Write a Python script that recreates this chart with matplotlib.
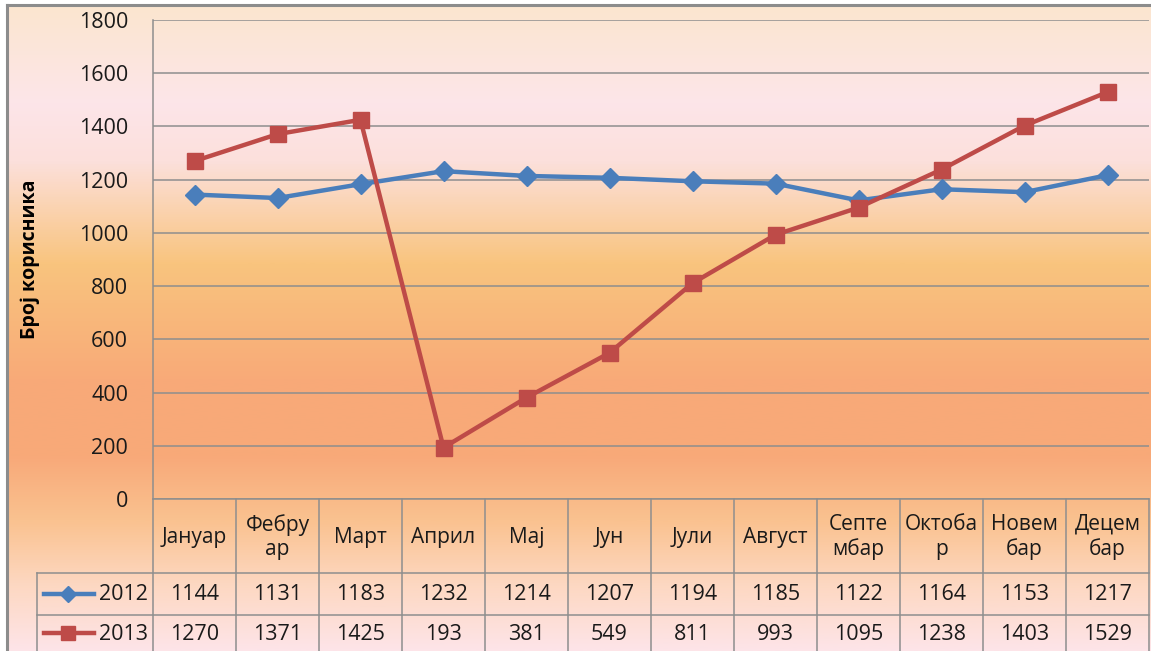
import matplotlib
matplotlib.use("Agg")
import matplotlib.pyplot as plt
import numpy as np
from matplotlib.colors import LinearSegmentedColormap
from matplotlib.lines import Line2D
import matplotlib.transforms as mtransforms

plt.rcParams['font.family'] = ['Open Sans', 'Noto Sans', 'DejaVu Sans']

months = ["Јануар", "Фебру\nар", "Март", "Април", "Мај", "Јун", "Јули",
          "Август", "Септе\nмбар", "Октоба\nр", "Новем\nбар", "Децем\nбар"]
series_names = ["2012", "2013"]
values_2012 = [1144, 1131, 1183, 1232, 1214, 1207, 1194, 1185, 1122, 1164, 1153, 1217]
values_2013 = [1270, 1371, 1425, 193, 381, 549, 811, 993, 1095, 1238, 1403, 1529]
y_ticks = [0, 200, 400, 600, 800, 1000, 1200, 1400, 1600, 1800]
y_label = "Број корисника"

W, H = 1151, 651
DPI = 100
fig = plt.figure(figsize=(W / DPI, H / DPI), dpi=DPI)
fig.patch.set_facecolor("white")

def fx(px):
    return px / W

def fy(py):
    return 1 - py / H

# Background gradient (whole chart area)
bg_left, bg_top = 7, 5
bgax = fig.add_axes([fx(bg_left), 0, 1 - fx(bg_left), fy(bg_top)])
bgax.set_axis_off()
stops = [
    (0.00, "#FBE6CF"),
    (0.15, "#FDE5E9"),
    (0.24, "#FCE0DC"),
    (0.40, "#F9C47E"),
    (0.58, "#F8AA78"),
    (0.70, "#F8A979"),
    (0.80, "#FAC290"),
    (0.90, "#FDD8C2"),
    (1.00, "#FDE4E8"),
]
cmap = LinearSegmentedColormap.from_list("bg", stops)
grad = np.linspace(0, 1, 512).reshape(-1, 1)
bgax.imshow(grad, aspect="auto", cmap=cmap, extent=[0, 1, 1, 0])
bgax.set_xlim(0, 1)
bgax.set_ylim(1, 0)

# Outer border
border_col = "#8C8C8C"
fig.add_artist(Line2D([fx(bg_left), 1], [fy(bg_top), fy(bg_top)], color=border_col, lw=2.2))
fig.add_artist(Line2D([fx(bg_left), fx(bg_left)], [fy(bg_top), 0], color=border_col, lw=2.2))

# Plot area
pl, pr, pt, pb = 153, 1149, 20, 499
ax = fig.add_axes([fx(pl), fy(pb), fx(pr) - fx(pl), fy(pt) - fy(pb)])
ax.patch.set_alpha(0)
x = np.arange(len(months))
ax.set_xlim(-0.5, len(months) - 0.5)
ax.set_ylim(0, 1800)
ax.set_yticks(y_ticks)
ax.set_yticklabels([str(v) for v in y_ticks], fontsize=15.5, color="#1a1a1a")
ax.tick_params(axis="y", length=0, pad=18)
ax.tick_params(axis="x", length=0, labelbottom=False)
grid_col = "#8E8E8E"
ax.grid(axis="y", color=grid_col, lw=1.1)
ax.set_axisbelow(True)
for s in ["top", "right"]:
    ax.spines[s].set_visible(False)
ax.spines["left"].set_color(grid_col)
ax.spines["bottom"].set_color(grid_col)
ax.spines["left"].set_linewidth(1.1)
ax.spines["bottom"].set_linewidth(1.1)

blue = "#4A7EBB"
red = "#BE4B48"
ax.plot(x, values_2012, color=blue, lw=3.2, marker="D", markersize=10, zorder=3)
ax.plot(x, values_2013, color=red, lw=3.2, marker="s", markersize=12, zorder=4)

ax.set_ylabel(y_label, fontsize=14, fontweight="bold")
ax.yaxis.set_label_coords(-(pl - 40) / (pr - pl), 0.5)

# Data table
trans = mtransforms.blended_transform_factory(ax.transData, fig.transFigure)
hdr_top, hdr_bot, r1_bot = 499, 573, 615
leg_left = 37
tcol = grid_col
for b in np.arange(-0.5, len(months), 1.0):
    ax.add_line(Line2D([b, b], [fy(hdr_top), 0], transform=trans, color=tcol, lw=1.1, clip_on=False))
for yy in [hdr_bot, r1_bot]:
    fig.add_artist(Line2D([fx(leg_left), fx(pr)], [fy(yy), fy(yy)], color=tcol, lw=1.1))
fig.add_artist(Line2D([fx(leg_left), fx(leg_left)], [fy(hdr_bot), 0], color=tcol, lw=1.1))

hdr_c = (hdr_top + hdr_bot) / 2 + 1
for i, m in enumerate(months):
    ax.text(x[i], fy(hdr_c), m, transform=trans, ha="center", va="center",
            fontsize=15, color="#1a1a1a", linespacing=1.2)

rows = [values_2012, values_2013]
row_c = [(hdr_bot + r1_bot) / 2 + 1, (r1_bot + 651) / 2 + 1]
for vals, yc in zip(rows, row_c):
    for i, v in enumerate(vals):
        ax.text(x[i], fy(yc), str(v), transform=trans, ha="center", va="center",
                fontsize=15.5, color="#1a1a1a")

# legend keys in table
markers = [("D", blue, 8), ("s", red, 10)]
for (mk, col, ms), name, yc in zip(markers, series_names, row_c):
    fig.add_artist(Line2D([fx(44), fx(94)], [fy(yc - 1), fy(yc - 1)], color=col, lw=3.2))
    fig.add_artist(Line2D([fx(68)], [fy(yc - 1)], color=col, marker=mk, markersize=ms, lw=0))
    fig.text(fx(148), fy(yc), name, ha="right", va="center", fontsize=15.5, color="#1a1a1a")

fig.savefig("out.png", dpi=DPI)
